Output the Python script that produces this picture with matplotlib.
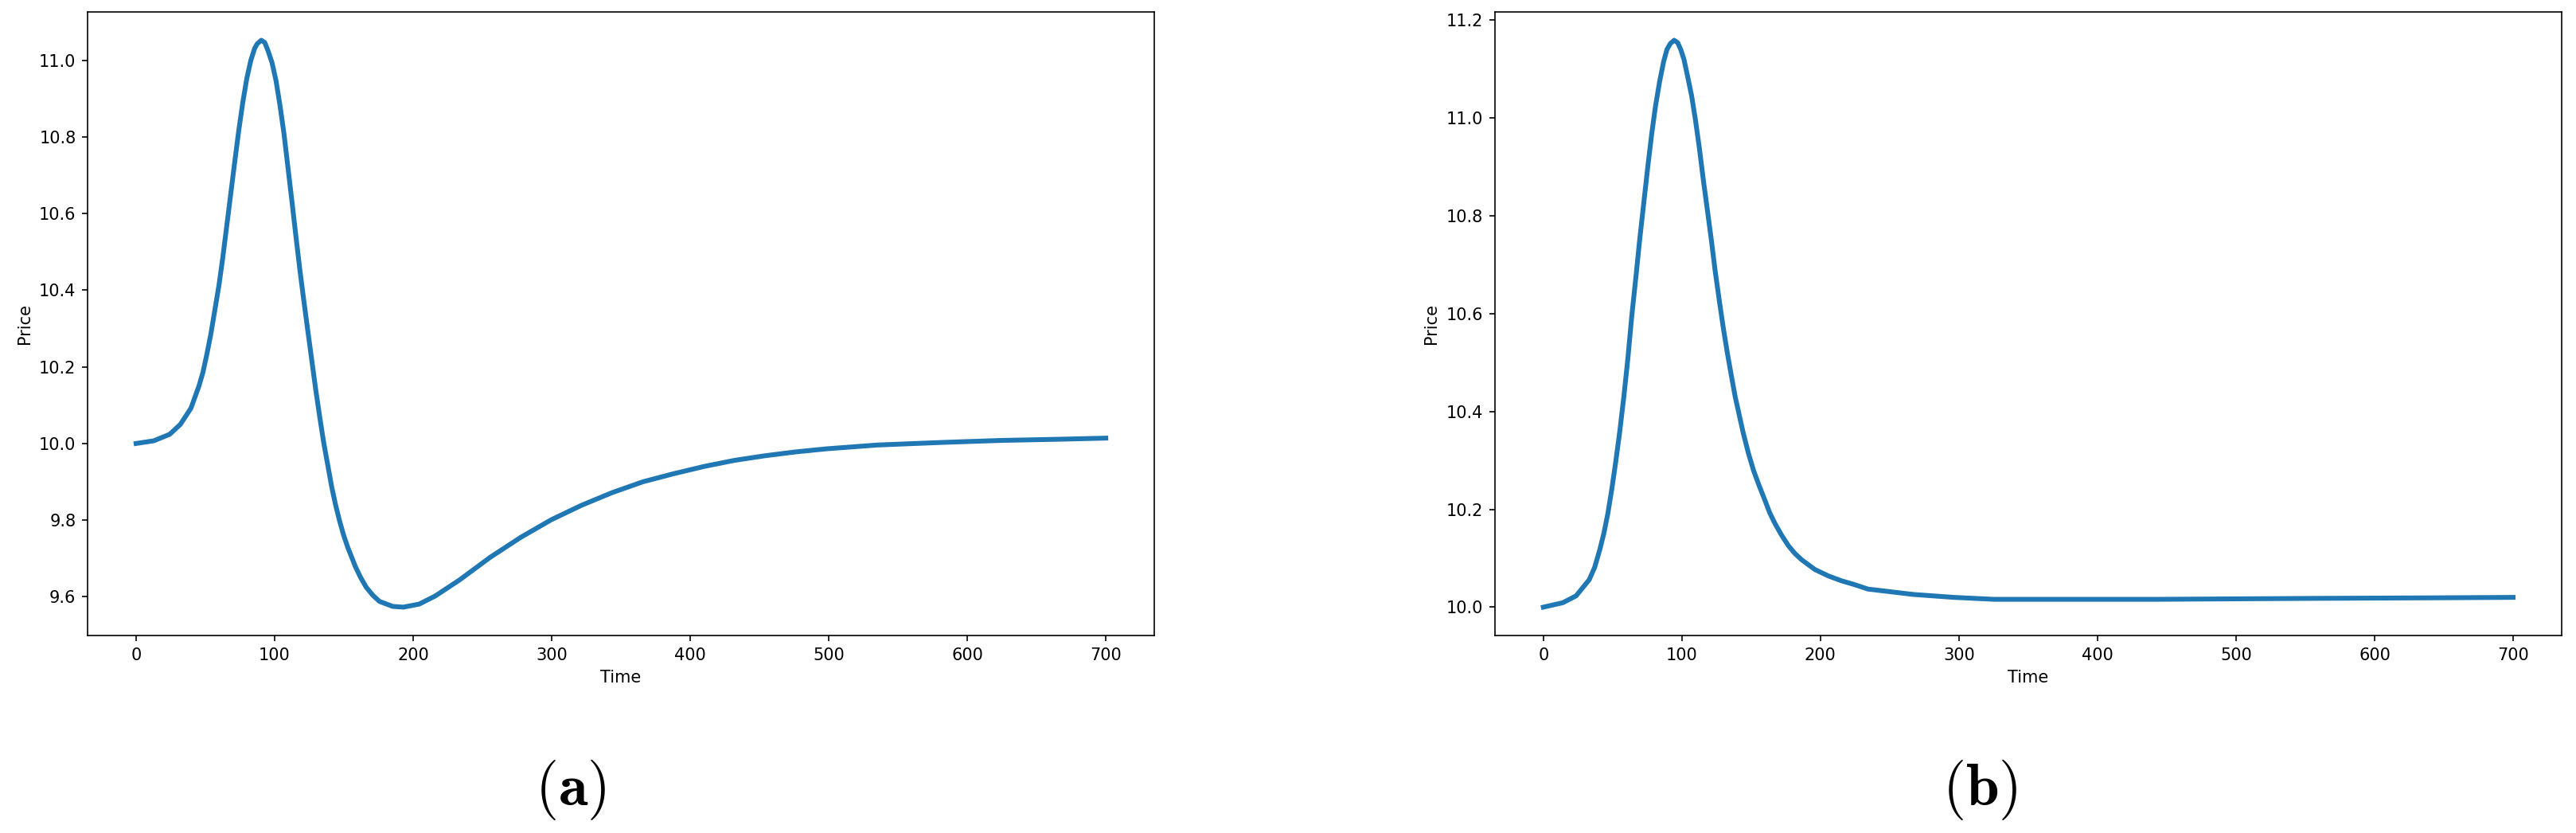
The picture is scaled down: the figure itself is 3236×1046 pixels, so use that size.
import matplotlib
matplotlib.use("Agg")
import matplotlib.pyplot as plt

# values
time_a = [0, 12.8, 24.3, 32, 39.6, 45.4, 48.3, 51.1, 54, 56.9, 59.8, 62.6, 65.5, 68.4,
          71.3, 74.1, 77, 79.9, 82.8, 85.6, 87.5, 90.4, 92.9, 95.2, 98.1, 101, 103.8,
          106.7, 109.6, 112.5, 115.3, 118.2, 121, 123.9, 126.8, 129.7, 132.5, 135.4,
          138.3, 141.2, 144, 146.9, 149.8, 152.7, 158.4, 162, 166.1, 170.9, 175.7, 185.2,
          192.9, 204.4, 215.9, 233.5, 255.6, 277.6, 299.7, 321.7, 343.8, 365.8, 387.9,
          409.9, 432, 454, 476, 498.1, 535, 583.6, 624.6, 665.7, 700]
price_a = [10.0, 10.007, 10.024, 10.05, 10.092, 10.15, 10.186, 10.233, 10.286, 10.349,
           10.412, 10.485, 10.569, 10.653, 10.737, 10.816, 10.889, 10.952, 10.999, 11.031,
           11.043, 11.052, 11.046, 11.025, 10.994, 10.947, 10.884, 10.81, 10.721, 10.632,
           10.543, 10.454, 10.375, 10.296, 10.218, 10.14, 10.071, 10.003, 9.945, 9.887,
           9.84, 9.798, 9.761, 9.73, 9.678, 9.651, 9.625, 9.604, 9.588, 9.575, 9.573,
           9.581, 9.602, 9.644, 9.703, 9.755, 9.801, 9.839, 9.872, 9.9, 9.921, 9.94,
           9.956, 9.968, 9.978, 9.986, 9.996, 10.003, 10.008, 10.011, 10.014]

time_b = [0, 14, 23.6, 33.1, 37, 40.8, 43.7, 46.6, 49.4, 52.3, 55.2, 58.1, 61, 63.8,
          66.7, 69.5, 72.4, 75.3, 78.2, 81, 83.9, 86.8, 89.2, 91.6, 94.4, 97, 99.2,
          101.5, 104, 107, 109.8, 112.6, 115.5, 118.4, 121.3, 124, 127, 130, 132.8,
          135.6, 138.5, 141.4, 144.3, 148, 151.9, 155.7, 159.6, 163.4, 167.2, 172,
          176.8, 181.5, 186.4, 196, 205.6, 215.1, 224.7, 234.3, 266.9, 296.2, 325.5,
          384, 442.8, 501.5, 560, 638.7, 700]
price_b = [10.0, 10.009, 10.023, 10.056, 10.081, 10.118, 10.151, 10.192, 10.241, 10.298,
           10.36, 10.43, 10.508, 10.594, 10.672, 10.75, 10.824, 10.898, 10.967, 11.025,
           11.074, 11.115, 11.14, 11.152, 11.159, 11.154, 11.14, 11.12, 11.087, 11.046,
           10.996, 10.939, 10.873, 10.812, 10.75, 10.688, 10.627, 10.569, 10.52, 10.475,
           10.43, 10.393, 10.356, 10.315, 10.278, 10.249, 10.221, 10.193, 10.171, 10.147,
           10.126, 10.11, 10.097, 10.077, 10.064, 10.054, 10.046, 10.037, 10.026, 10.02,
           10.016, 10.016, 10.016, 10.017, 10.018, 10.019, 10.02]

panel_labels = ["(a)", "(b)"]

plt.rcParams['mathtext.fontset'] = 'cm'

fig = plt.figure(figsize=(3236 / 150, 1046 / 150), dpi=150)
ax_a = fig.add_axes([0.0340, 0.2371, 0.4141, 0.7486])
ax_b = fig.add_axes([0.5803, 0.2371, 0.4141, 0.7486])

for ax, t, p in [(ax_a, time_a, price_a), (ax_b, time_b, price_b)]:
    ax.plot(t, p, color='#1f77b4', linewidth=2.9)
    ax.set_xlabel('Time')
    ax.set_ylabel('Price')
    ax.set_xticks([0, 100, 200, 300, 400, 500, 600, 700])

# subfigure captions
fig.text(0.2216, 0.0516, r'$\mathbf{' + panel_labels[0] + '}$', fontsize=36,
         ha='center', va='center')
fig.text(0.7685, 0.0516, r'$\mathbf{' + panel_labels[1] + '}$', fontsize=36,
         ha='center', va='center')

fig.savefig('out.png', dpi=150)
